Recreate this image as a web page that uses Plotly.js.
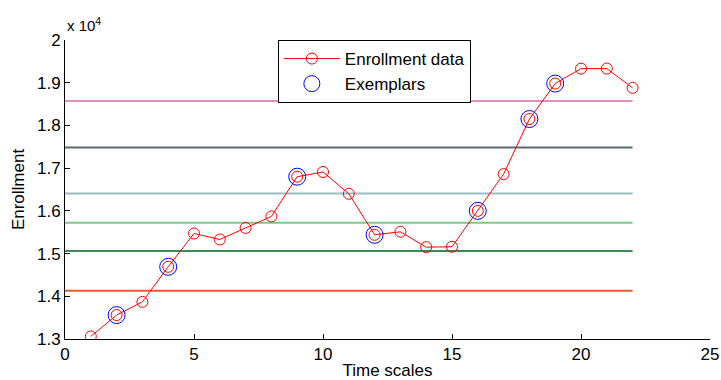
<!DOCTYPE html>
<html>
<head>
<meta charset="utf-8">
<script src="https://cdn.plot.ly/plotly-3.0.1.min.js"></script>
<style>html,body{margin:0;padding:0;background:#fff;}#chart{width:721px;height:380px;}</style>
</head>
<body>
<div id="chart"></div>
<script>
// Enrollment data (time index 1..22)
const timeScales = [1,2,3,4,5,6,7,8,9,10,11,12,13,14,15,16,17,18,19,20,21,22];
const enrollment = [13060,13560,13870,14690,15470,15330,15600,15870,16800,16910,16400,15440,15510,15150,15160,16000,16860,18150,18980,19330,19330,18880];
// Exemplar time indices
const exemplarTimes = [2,4,9,12,16,18,19];
// Horizontal threshold levels
const levels = [14130,15060,15720,16405,17484,18570];
const levelColors = ['#e85a30','#3a8a55','#7cc98a','#9bbcc0','#5a6a6a','#e08fc0'];
const levelStart = 0, levelEnd = 22;
// Axis ticks
const yTickVals = [13000,14000,15000,16000,17000,18000,19000,20000];
const yTickText = ['1.3','1.4','1.5','1.6','1.7','1.8','1.9','2'];
const xTickVals = [0,5,10,15,20,25];

const exemplarVals = exemplarTimes.map(t => enrollment[timeScales.indexOf(t)]);

const traces = levels.map((v,i) => ({
  x: [levelStart, levelEnd], y: [v, v], mode: 'lines', type: 'scatter',
  line: {color: levelColors[i], width: 2}, showlegend: false, hoverinfo: 'skip'
}));
traces.push({
  x: timeScales, y: enrollment, mode: 'lines+markers', type: 'scatter', name: 'Enrollment data',
  line: {color: '#ff0000', width: 1},
  marker: {symbol: 'circle-open', size: 11, color: '#ff0000', line: {width: 1}}
});
traces.push({
  x: exemplarTimes, y: exemplarVals, mode: 'markers', type: 'scatter', name: 'Exemplars',
  marker: {symbol: 'circle-open', size: 17, color: '#0000ff', line: {width: 1}}
});

const font = {family: 'Liberation Sans, Arial, sans-serif', size: 17, color: '#000'};
const layout = {
  width: 721, height: 380,
  margin: {l: 65, r: 11, t: 40, b: 41, pad: 0},
  paper_bgcolor: '#fff', plot_bgcolor: '#fff',
  font: font,
  xaxis: {
    range: [0, 25], tickvals: xTickVals, ticks: 'inside', ticklen: 5, tickcolor: '#000',
    showline: true, linecolor: '#000', linewidth: 1, showgrid: false, zeroline: false,
    title: {text: 'Time scales', font: font, standoff: 5}, tickfont: font
  },
  yaxis: {
    range: [13000, 20000], tickvals: yTickVals, ticktext: yTickText, ticks: 'inside', ticklen: 5, tickcolor: '#000',
    showline: true, linecolor: '#000', linewidth: 1, showgrid: false, zeroline: false,
    title: {text: 'Enrollment', font: font, standoff: 8}, tickfont: font
  },
  legend: {
    x: 0.33, y: 1, xanchor: 'left', yanchor: 'top',
    bordercolor: '#000', borderwidth: 1, bgcolor: '#fff',
    font: font, itemwidth: 56, tracegroupgap: 0
  },
  annotations: [{
    xref: 'paper', yref: 'paper', x: 0, y: 1, xanchor: 'left', yanchor: 'bottom', yshift: 4,
    text: 'x 10<sup>4</sup>', showarrow: false, font: {family: font.family, size: 15, color: '#000'}
  }]
};
Plotly.newPlot('chart', traces, layout, {displayModeBar: false, staticPlot: true});
</script>
</body>
</html>
